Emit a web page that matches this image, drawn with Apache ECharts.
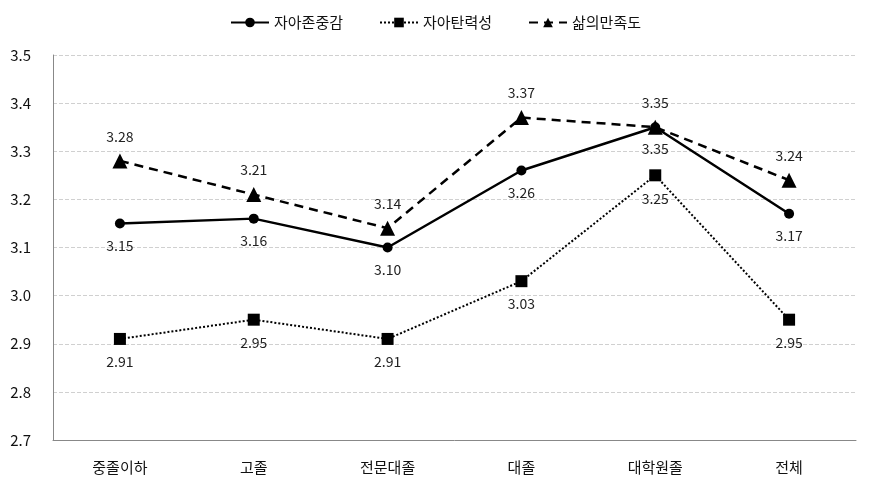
<!DOCTYPE html>
<html><head><meta charset="utf-8">
<script src="https://cdn.jsdelivr.net/npm/echarts@6/dist/echarts.min.js"></script>
<style>html,body{margin:0;padding:0;background:#fff}#c{width:871px;height:494px}</style>
</head><body><div id="c"></div>
<script>
const categories = ['중졸이하','고졸','전문대졸','대졸','대학원졸','전체'];
const selfEsteem = [3.15, 3.16, 3.10, 3.26, 3.35, 3.17];
const resilience = [2.91, 2.95, 2.91, 3.03, 3.25, 2.95];
const lifeSatisfaction = [3.28, 3.21, 3.14, 3.37, 3.35, 3.24];
const seriesNames = ['자아존중감','자아탄력성','삶의만족도'];
const font = '"Malgun Gothic","Noto Sans CJK KR",sans-serif';
const chart = echarts.init(document.getElementById('c'));
const lbl = (pos) => ({show:true, position:pos, distance:10, color:'#222', fontSize:14, fontFamily:font, formatter:p=>p.value.toFixed(2)});
chart.setOption({
  animation:false,
  legend:{top:10, left:'center', itemGap:36, itemWidth:38, itemHeight:12, textStyle:{fontSize:15, color:'#111', fontFamily:font}, data:seriesNames},
  grid:{left:53, right:15, top:55, bottom:54},
  xAxis:{type:'category', data:categories, boundaryGap:true,
    axisLine:{lineStyle:{color:'#888', width:1}}, axisTick:{show:false},
    axisLabel:{margin:20, fontSize:15, color:'#111', fontFamily:font}},
  yAxis:{type:'value', min:2.7, max:3.5, interval:0.1,
    axisLine:{show:true, lineStyle:{color:'#888', width:1}}, axisTick:{show:false},
    axisLabel:{margin:22, fontSize:15, color:'#111', fontFamily:font, formatter:v=>v.toFixed(1)},
    splitLine:{lineStyle:{type:'dashed', color:'#d0d0d0'}}},
  series:[
    {name:seriesNames[0], type:'line', data:selfEsteem, symbol:'circle', symbolSize:10,
      lineStyle:{color:'#000', width:2.5}, itemStyle:{color:'#000'}, label:lbl('bottom'), z:3},
    {name:seriesNames[1], type:'line', data:resilience, symbol:'rect', symbolSize:12,
      lineStyle:{color:'#000', width:2, type:'dotted'}, itemStyle:{color:'#000'}, label:lbl('bottom'), z:2},
    {name:seriesNames[2], type:'line', data:lifeSatisfaction, symbol:'triangle', symbolSize:15,
      lineStyle:{color:'#000', width:2.5, type:[9,6]}, itemStyle:{color:'#000'}, label:lbl('top'), z:4}
  ]
});
</script></body></html>
